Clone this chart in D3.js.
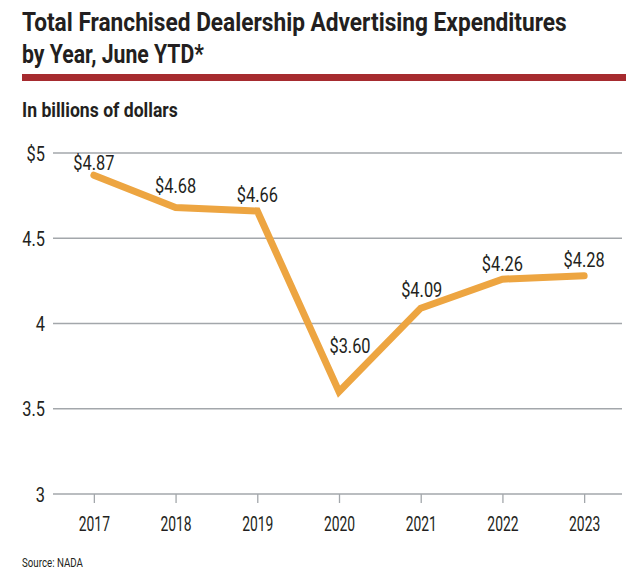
<!DOCTYPE html>
<html>
<head>
<meta charset="utf-8">
<script src="https://cdn.jsdelivr.net/npm/d3@7/dist/d3.min.js"></script>
<style>
  html, body { margin: 0; padding: 0; background: #ffffff; }
  svg { display: block; }
  text { font-family: Roboto, "Liberation Sans", sans-serif; fill: #231f20; }
</style>
</head>
<body>
<svg id="chart" width="640" height="581"></svg>
<script>
const years = ["2017", "2018", "2019", "2020", "2021", "2022", "2023"];
const values = [4.87, 4.68, 4.66, 3.60, 4.09, 4.26, 4.28];
const valueLabels = ["$4.87", "$4.68", "$4.66", "$3.60", "$4.09", "$4.26", "$4.28"];
const yTicks = [3, 3.5, 4, 4.5, 5];
const yTickLabels = ["3", "3.5", "4", "4.5", "$5"];
const titleLines = ["Total Franchised Dealership Advertising Expenditures", "by Year, June YTD*"];
const subtitle = "In billions of dollars";
const sourceNote = "Source: NADA";

// label placement offsets (layout only)
const labelDx = [0, 0, 0, 11, 1, 0, 0];
const labelDy = [-5, -15, -9, -39, -11, -8, -9];

const COND = 0.78;      // horizontal condensing for numbers
const COND_YEAR = 0.66; // horizontal condensing for year labels

const svg = d3.select("#chart");

const x = d3.scalePoint().domain(years).range([53, 625]).padding(0.5);
const y = d3.scaleLinear().domain([3, 5]).range([494, 153]);

// place a text at (px,py) compressed horizontally to a target width (or factor)
function placeText(g, str, px, py, opts) {
  const t = g.append("text")
    .attr("x", 0).attr("y", 0)
    .attr("font-size", opts.size)
    .attr("font-weight", opts.weight || "normal")
    .attr("text-anchor", opts.anchor || "start")
    .text(str);
  let s = opts.scale || COND;
  if (opts.width) {
    const w = t.node().getComputedTextLength();
    s = opts.width / w;
  }
  t.attr("transform", `translate(${px},${py}) scale(${s},1)`);
  return t;
}

// Title
placeText(svg, titleLines[0], 22, 31, {size: 25, weight: "bold", width: 545});
placeText(svg, titleLines[1], 22, 63, {size: 25, weight: "bold", width: 182});

svg.append("rect").attr("x", 22).attr("y", 74).attr("width", 604).attr("height", 7)
  .attr("fill", "#a62b2f");

placeText(svg, subtitle, 22, 117, {size: 20, weight: "bold", width: 156});

// Gridlines
svg.append("g").selectAll("line").data(yTicks).join("line")
  .attr("x1", 53).attr("x2", 622)
  .attr("y1", d => y(d)).attr("y2", d => y(d))
  .attr("stroke", "#a3a7ab").attr("stroke-width", 1.3);

// Y labels
const gy = svg.append("g");
yTicks.forEach((d, i) => {
  placeText(gy, yTickLabels[i], 45, y(d) + 7.5, {size: 21, anchor: "end"});
});

// X axis
const xAxis = d3.axisBottom(x).tickSize(9).tickPadding(13).tickSizeOuter(0);
const gx = svg.append("g").attr("transform", `translate(0,${y(3)})`).call(xAxis);
gx.select(".domain").remove();
gx.selectAll(".tick line").attr("stroke", "#a3a7ab").attr("stroke-width", 1.3);
gx.selectAll(".tick text")
  .attr("font-size", 21)
  .attr("fill", "#231f20")
  .style("font-family", "Roboto, 'Liberation Sans', sans-serif")
  .attr("transform", `scale(${COND_YEAR},1)`);

// Line
const line = d3.line().x((d, i) => x(years[i])).y(d => y(d));
svg.append("path").datum(values)
  .attr("d", line)
  .attr("fill", "none")
  .attr("stroke", "#eda541")
  .attr("stroke-width", 7)
  .attr("stroke-linecap", "round")
  .attr("stroke-linejoin", "miter");

// Value labels
const gl = svg.append("g");
values.forEach((d, i) => {
  placeText(gl, valueLabels[i], x(years[i]) + labelDx[i], y(d) + labelDy[i], {size: 21, anchor: "middle"});
});

// Source
placeText(svg, sourceNote, 22, 567, {size: 13, width: 61});
</script>
</body>
</html>
